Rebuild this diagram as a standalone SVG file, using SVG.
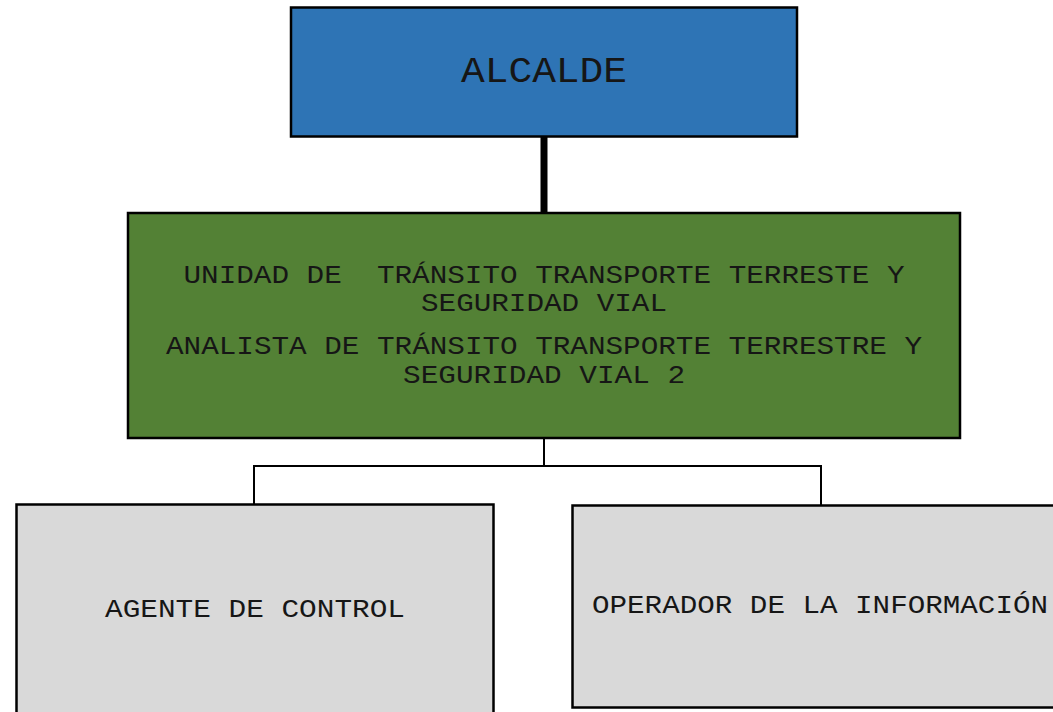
<svg xmlns="http://www.w3.org/2000/svg" width="1053" height="712" viewBox="0 0 1053 712">
<style>
.box{stroke:#000;stroke-width:2.5}
.t{font-family:"Liberation Mono","Courier New",monospace;font-size:26px;fill:#161616;text-anchor:middle}
.conn{fill:none;stroke:#000;stroke-width:2}
</style>
<rect width="1053" height="712" fill="#fff"/>
<g id="connectors">
<line x1="544" y1="137" x2="544" y2="212" stroke="#000" stroke-width="7"/>
<polyline class="conn" points="544,438 544,466 254,466 254,504"/>
<polyline class="conn" points="544,466 821,466 821,505"/>
</g>
<g id="alcalde">
<rect class="box" x="291" y="7.5" width="506" height="129" fill="#2E74B5"/>
<text class="t" x="544" y="82" style="font-size:36px" textLength="166" lengthAdjust="spacingAndGlyphs">ALCALDE</text>
</g>
<g id="unidad">
<rect class="box" x="128" y="213" width="832" height="225" fill="#538135"/>
<text class="t" x="544" y="283" xml:space="preserve" textLength="721" lengthAdjust="spacingAndGlyphs">UNIDAD DE  TRÁNSITO TRANSPORTE TERRESTE Y</text>
<text class="t" x="544" y="311" textLength="246" lengthAdjust="spacingAndGlyphs">SEGURIDAD VIAL</text>
<text class="t" x="544" y="354" textLength="756" lengthAdjust="spacingAndGlyphs">ANALISTA DE TRÁNSITO TRANSPORTE TERRESTRE Y</text>
<text class="t" x="544" y="383" textLength="282" lengthAdjust="spacingAndGlyphs">SEGURIDAD VIAL 2</text>
</g>
<g id="agente">
<rect class="box" x="16.5" y="504.5" width="477" height="220" fill="#D9D9D9"/>
<text class="t" x="255" y="617" textLength="300" lengthAdjust="spacingAndGlyphs">AGENTE DE CONTROL</text>
</g>
<g id="operador">
<rect class="box" x="572.5" y="505.5" width="500" height="202" fill="#D9D9D9"/>
<text class="t" x="592" y="613" style="text-anchor:start" textLength="456" lengthAdjust="spacingAndGlyphs">OPERADOR DE LA INFORMACIÓN</text>
</g>
</svg>
